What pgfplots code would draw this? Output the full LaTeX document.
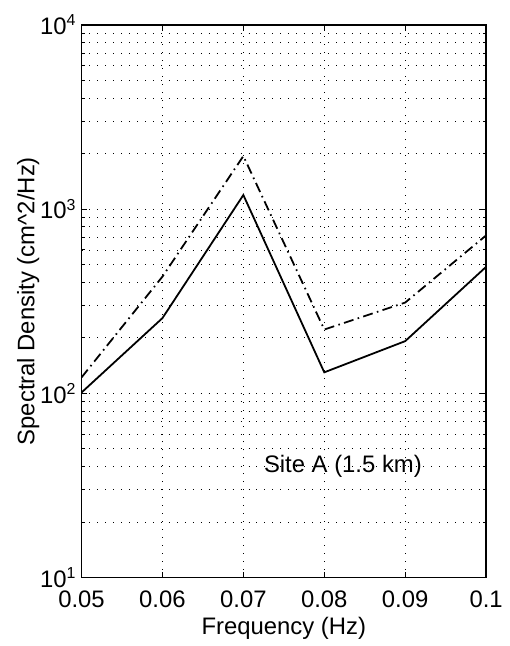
\documentclass[border=0pt]{standalone}
\usepackage{fontspec}
\setmainfont{Liberation Sans}
\usepackage{pgfplots}
\pgfplotsset{compat=1.18}
\begin{document}
\begin{tikzpicture}
\begin{axis}[
  scale only axis, width=203.5pt, height=278pt,
  xmin=0.05, xmax=0.1, ymode=log, ymin=10, ymax=10000,
  xtick={0.05,0.06,0.07,0.08,0.09,0.1},
  xticklabels={0.05,0.06,0.07,0.08,0.09,0.1},
  ytick={10,100,1000,10000},
  yticklabels={10\textsuperscript{1},10\textsuperscript{2},10\textsuperscript{3},10\textsuperscript{4}},
  font=\fontsize{12}{14}\selectfont,
  xlabel={Frequency (Hz)},
  ylabel={Spectral Density (cm\textasciicircum 2/Hz)},
  xmajorgrids, ymajorgrids, yminorgrids,
  grid style={black, line width=0.45pt, dash pattern=on 0.45pt off 3.55pt},
  major grid style={black, line width=0.45pt, dash pattern=on 0.45pt off 3.55pt},
  minor grid style={black, line width=0.45pt, dash pattern=on 0.45pt off 3.55pt},
  major tick length=3pt, minor tick length=1.8pt,
  tick style={black, line width=0.5pt},
  axis line style={line width=0.7pt},
  tick align=inside,
  xticklabel style={yshift=-3pt},
  yticklabel style={xshift=1pt},
  xlabel style={yshift=2pt},
  ylabel style={yshift=-6.5pt},
]
\addplot[black, line width=0.9pt] coordinates {
  (0.05,101) (0.06,256) (0.07,1192) (0.08,130) (0.09,192) (0.1,486)
};
\addplot[black, line width=0.9pt, dash pattern=on 5pt off 2.2pt on 0.8pt off 2.2pt] coordinates {
  (0.05,122) (0.06,430) (0.07,1941) (0.08,222) (0.09,311) (0.1,720)
};
\node[font=\fontsize{12}{14}\selectfont] at (axis cs:0.0823,40) {Site A (1.5 km)};
\end{axis}
\path ([xshift=-41pt,yshift=-32.5pt]current axis.south west) rectangle ([xshift=9.5pt,yshift=12.5pt]current axis.north east);
\end{tikzpicture}
\end{document}
